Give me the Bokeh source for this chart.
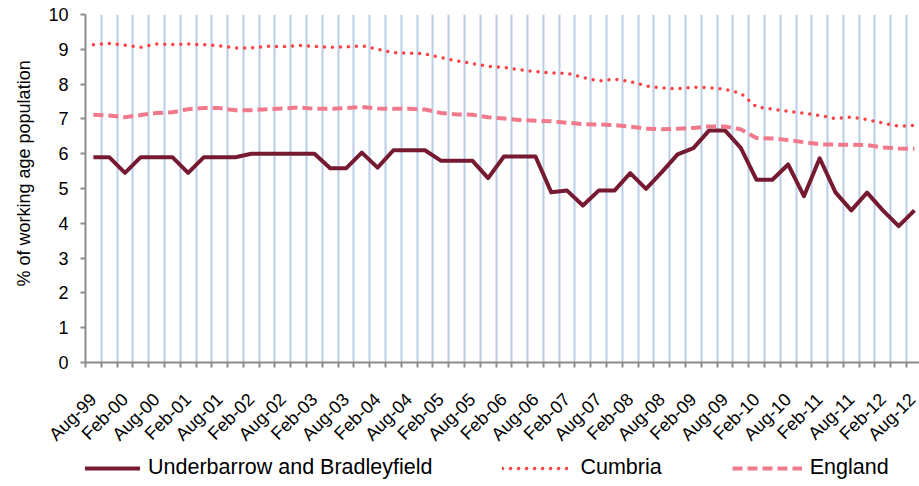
from math import pi
from bokeh.plotting import figure
from bokeh.layouts import column
from bokeh.models import FixedTicker, Legend, LegendItem, Range1d, Title
from bokeh.embed import file_html
from bokeh.resources import INLINE

quarters = ["Aug-99", "Nov-99",
            "Feb-00", "May-00", "Aug-00", "Nov-00",
            "Feb-01", "May-01", "Aug-01", "Nov-01",
            "Feb-02", "May-02", "Aug-02", "Nov-02",
            "Feb-03", "May-03", "Aug-03", "Nov-03",
            "Feb-04", "May-04", "Aug-04", "Nov-04",
            "Feb-05", "May-05", "Aug-05", "Nov-05",
            "Feb-06", "May-06", "Aug-06", "Nov-06",
            "Feb-07", "May-07", "Aug-07", "Nov-07",
            "Feb-08", "May-08", "Aug-08", "Nov-08",
            "Feb-09", "May-09", "Aug-09", "Nov-09",
            "Feb-10", "May-10", "Aug-10", "Nov-10",
            "Feb-11", "May-11", "Aug-11", "Nov-11",
            "Feb-12", "May-12", "Aug-12"]

underbarrow = [5.9, 5.9, 5.45, 5.9, 5.9, 5.9, 5.45, 5.9, 5.9, 5.9,
               6.0, 6.0, 6.0, 6.0, 6.0,
               5.58, 5.58, 6.03, 5.6, 6.1,
               6.1, 6.1, 5.8, 5.8, 5.8,
               5.3, 5.92, 5.92, 5.92, 4.89,
               4.94, 4.51, 4.94, 4.94, 5.44,
               4.99, 5.47, 5.98, 6.16, 6.67,
               6.67, 6.17, 5.25, 5.25, 5.69,
               4.78, 5.87, 4.89, 4.37, 4.88,
               4.37, 3.92, 4.37]

cumbria = [9.13, 9.17, 9.12, 9.06, 9.15, 9.14, 9.15, 9.13, 9.10, 9.04,
           9.04, 9.09, 9.08, 9.11, 9.08,
           9.06, 9.07, 9.10, 9.00, 8.90,
           8.89, 8.87, 8.76, 8.67, 8.59,
           8.51, 8.48, 8.41, 8.36, 8.32,
           8.31, 8.19, 8.09, 8.14, 8.07,
           7.95, 7.89, 7.87, 7.91, 7.90,
           7.85, 7.74, 7.34, 7.28, 7.22,
           7.16, 7.10, 7.01, 7.05, 6.98,
           6.88, 6.79, 6.81]

england = [7.12, 7.10, 7.05, 7.11, 7.17, 7.19, 7.28, 7.31, 7.31, 7.25,
           7.25, 7.28, 7.30, 7.33, 7.29,
           7.29, 7.31, 7.34, 7.30, 7.29,
           7.29, 7.27, 7.17, 7.13, 7.12,
           7.05, 7.01, 6.97, 6.95, 6.93,
           6.89, 6.85, 6.84, 6.82, 6.78,
           6.72, 6.70, 6.72, 6.74, 6.78,
           6.78, 6.70, 6.45, 6.44, 6.39,
           6.33, 6.27, 6.26, 6.26, 6.25,
           6.18, 6.15, 6.14]

series_names = ["Underbarrow and Bradleyfield", "Cumbria", "England"]
y_ticks = list(range(0, 11))
y_title = "% of working age population"

x = list(range(len(quarters)))
label_idx = list(range(0, len(quarters), 2))
bounds = [i - 0.5 for i in range(len(quarters) + 1)]
series = [underbarrow, cumbria, england]

FONT = "Liberation Sans"
AXIS_GREY = "#8c8c8c"
STYLES = [dict(line_color="#761a31", line_width=4, line_join="round"),
          dict(line_color="#ff4040", line_width=3.5, line_dash="0 8", line_cap="round"),
          dict(line_color="#f07a8b", line_width=4, line_dash="10 5")]

p = figure(width=919, height=454, output_backend="svg", toolbar_location=None,
           x_range=Range1d(-0.5, 52.32), y_range=Range1d(0, 10),
           min_border_left=85, min_border_right=0, min_border_top=14,
           min_border_bottom=92)
p.outline_line_color = None
p.background_fill_color = "white"

# x axis
xa = p.xaxis[0]
xa.ticker = FixedTicker(ticks=label_idx, minor_ticks=bounds)
xa.major_label_overrides = {i: quarters[i] for i in label_idx}
xa.major_label_orientation = pi / 4
xa.major_tick_out = 0
xa.major_tick_in = 0
xa.minor_tick_out = 5
xa.minor_tick_in = 0
xa.minor_tick_line_color = AXIS_GREY
xa.minor_tick_line_width = 2
xa.axis_line_color = AXIS_GREY
xa.axis_line_width = 2
xa.major_label_standoff = 29
xa.major_label_text_font = FONT
xa.major_label_text_font_size = "18px"
xa.major_label_text_color = "black"

# y axis
ya = p.yaxis[0]
ya.ticker = FixedTicker(ticks=y_ticks)
ya.major_tick_out = 5
ya.major_tick_in = 0
ya.minor_tick_out = 0
ya.minor_tick_in = 0
ya.major_tick_line_color = AXIS_GREY
ya.major_tick_line_width = 2
ya.axis_line_color = AXIS_GREY
ya.axis_line_width = 2
ya.major_label_standoff = 12
ya.major_label_text_font = FONT
ya.major_label_text_font_size = "18px"
ya.major_label_text_color = "black"

p.xgrid.ticker = FixedTicker(ticks=bounds)
p.xgrid.grid_line_color = "#b9cde5"
p.xgrid.grid_line_width = 2
p.ygrid.grid_line_color = None

for vals, st in zip(series, STYLES):
    p.line(x, vals, **st)

ytitle = Title(text=y_title, align="left", vertical_align="top", offset=76,
               standoff=20, text_font=FONT, text_font_size="18px",
               text_font_style="normal", text_color="black")
p.add_layout(ytitle, "left")

# legend strip under the chart (its series lie outside this strip's range)
lg = figure(width=919, height=32, output_backend="svg", toolbar_location=None,
            x_axis_type=None, y_axis_type=None, min_border=0,
            x_range=Range1d(0, 1), y_range=Range1d(-2, -1))
lg.outline_line_color = None
lg.grid.visible = False
items = []
for name, vals, st in zip(series_names, series, STYLES):
    r = lg.line(x, vals, **st)
    items.append(LegendItem(label=name, renderers=[r]))
legend = Legend(items=items, orientation="horizontal", location=(-15, 6),
                glyph_width=70, glyph_height=24, label_height=24,
                label_standoff=8, spacing=70, padding=0, margin=0,
                label_text_font=FONT, label_text_font_size="21.5px",
                label_text_color="black",
                border_line_color=None, background_fill_alpha=0)
lg.add_layout(legend)

open("out.html", "w").write(file_html(column(p, lg, spacing=0), INLINE))
